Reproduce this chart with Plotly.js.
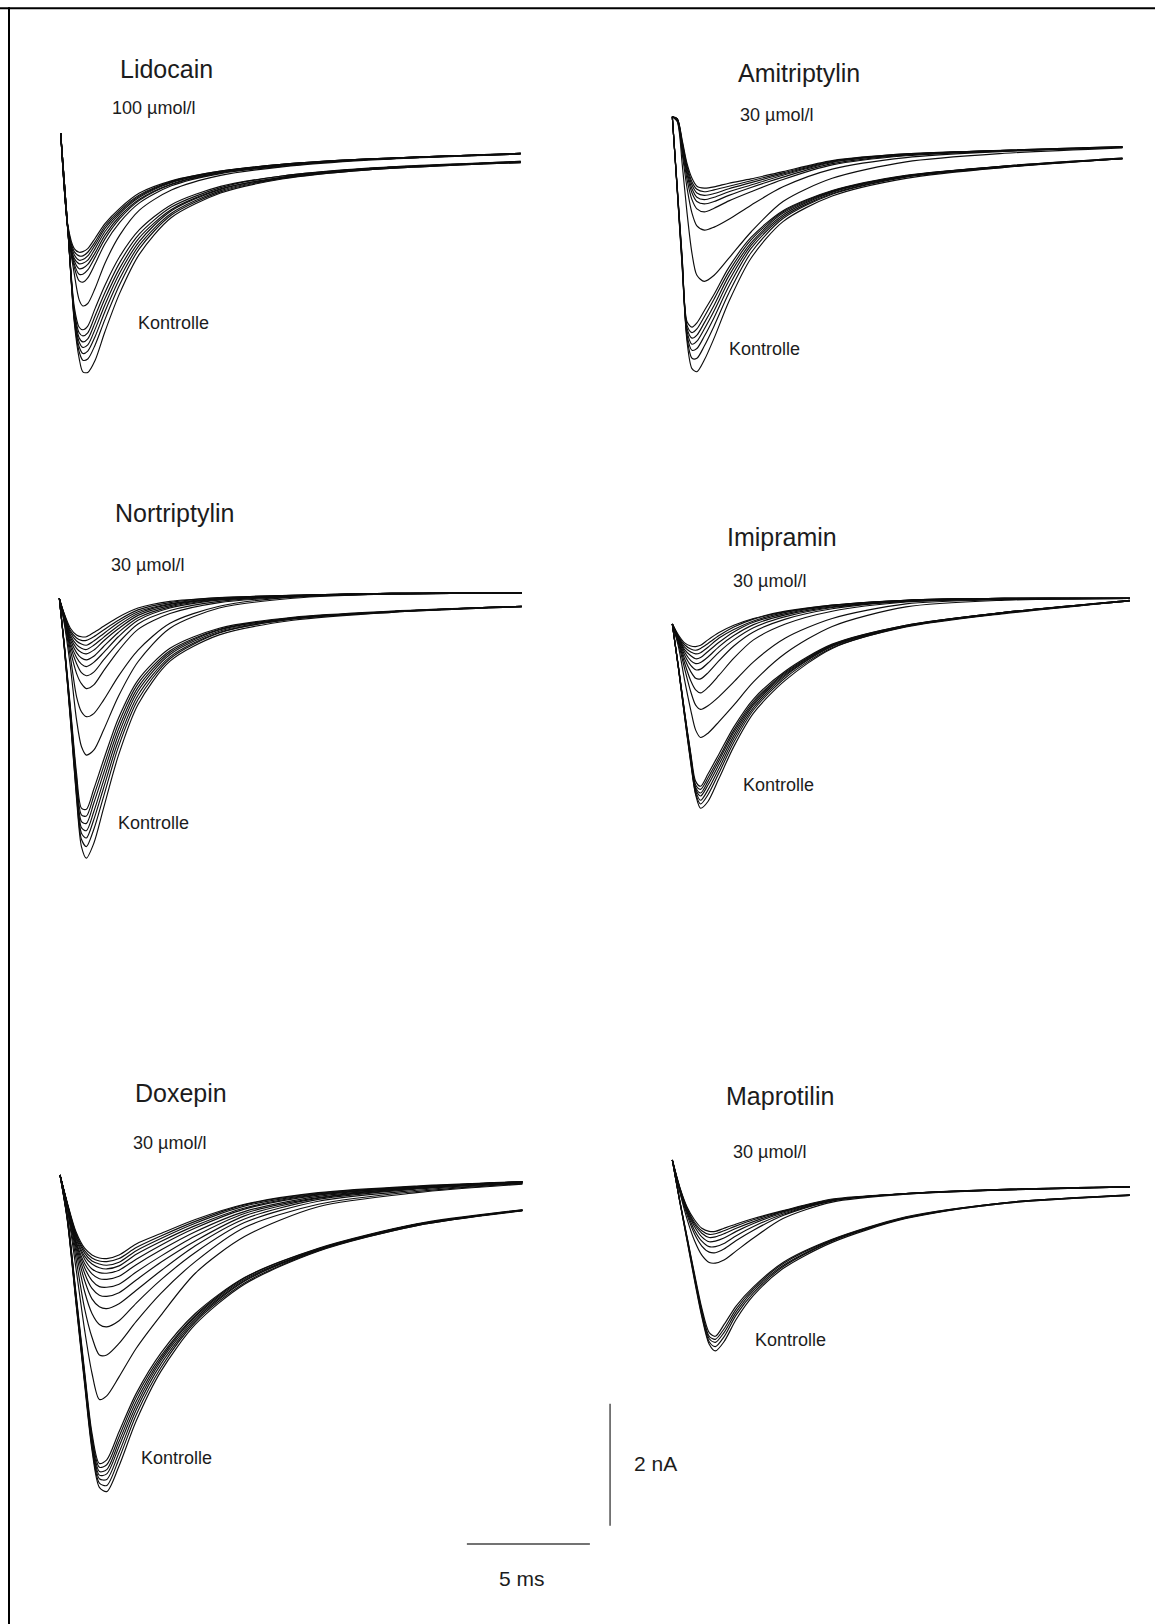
<!DOCTYPE html>
<html><head><meta charset="utf-8">
<script src="https://cdn.plot.ly/plotly-3.0.1.min.js"></script>
<style>html,body{margin:0;padding:0;background:#fff;}#chart{width:1155px;height:1624px;}</style>
</head><body><div id="chart"></div>
<script>
// ---- data: time in ms, current in nA ----
const panelNames = ['Lidocain','Amitriptylin','Nortriptylin','Imipramin','Doxepin','Maprotilin'];
const concLabels = ['100 µmol/l','30 µmol/l','30 µmol/l','30 µmol/l','30 µmol/l','30 µmol/l'];
const controlLabel = 'Kontrolle';
const scaleBarMs = 5, scaleBarNa = 2;
const scaleLabels = ['5 ms','2 nA'];

const lidoTime = [0,0.3,0.55,0.75,0.9,1.1,1.4,1.8,2.4,3.2,4.5,6.5,9,12.5,18.7];
const lidoControl = [
[0,-1.61,-2.84,-3.18,-3.22,-3.16,-2.87,-2.49,-2.02,-1.58,-1.17,-0.87,-0.70,-0.57,-0.46],
[0,-1.62,-2.90,-3.27,-3.32,-3.27,-2.99,-2.61,-2.12,-1.65,-1.21,-0.89,-0.70,-0.58,-0.46],
[0,-1.62,-2.94,-3.35,-3.42,-3.37,-3.10,-2.71,-2.21,-1.71,-1.25,-0.91,-0.72,-0.58,-0.47],
[0,-1.63,-2.98,-3.42,-3.51,-3.47,-3.21,-2.81,-2.29,-1.77,-1.27,-0.92,-0.72,-0.58,-0.47],
[0,-1.63,-3.02,-3.50,-3.61,-3.57,-3.33,-2.92,-2.38,-1.83,-1.31,-0.94,-0.73,-0.59,-0.47],
[0,-1.64,-3.05,-3.58,-3.72,-3.70,-3.47,-3.05,-2.48,-1.89,-1.34,-0.96,-0.74,-0.60,-0.48],
[0,-1.64,-3.09,-3.69,-3.91,-3.92,-3.72,-3.25,-2.62,-1.98,-1.38,-0.98,-0.75,-0.60,-0.48]];
const lidoDrug = [
[0,-1.53,-1.89,-1.95,-1.94,-1.89,-1.72,-1.48,-1.23,-0.98,-0.78,-0.62,-0.51,-0.42,-0.33],
[0,-1.56,-1.94,-2.01,-2.01,-1.95,-1.78,-1.52,-1.26,-1.01,-0.79,-0.62,-0.51,-0.42,-0.33],
[0,-1.57,-1.99,-2.08,-2.07,-2.01,-1.83,-1.56,-1.29,-1.03,-0.80,-0.63,-0.51,-0.42,-0.33],
[0,-1.58,-2.05,-2.14,-2.13,-2.08,-1.89,-1.61,-1.32,-1.05,-0.81,-0.63,-0.52,-0.43,-0.33],
[0,-1.60,-2.09,-2.22,-2.21,-2.15,-1.96,-1.67,-1.36,-1.08,-0.83,-0.64,-0.52,-0.43,-0.33],
[0,-1.61,-2.14,-2.31,-2.31,-2.24,-2.03,-1.73,-1.40,-1.10,-0.84,-0.65,-0.53,-0.43,-0.34],
[0,-1.62,-2.19,-2.42,-2.44,-2.37,-2.14,-1.81,-1.46,-1.14,-0.86,-0.66,-0.54,-0.43,-0.34],
[0,-1.63,-2.30,-2.73,-2.83,-2.79,-2.54,-2.13,-1.67,-1.26,-0.93,-0.69,-0.55,-0.44,-0.34]];

const amiTime = [0,0.2,0.4,0.6,0.8,1.0,1.3,1.7,2.3,3.2,4.5,6.5,9.5,13.5,18.3];
const amiControl = [
[0,-1.15,-2.30,-3.36,-3.45,-3.38,-3.18,-2.91,-2.47,-1.98,-1.54,-1.21,-0.96,-0.81,-0.68],
[0,-1.16,-2.32,-3.42,-3.54,-3.48,-3.28,-2.99,-2.54,-2.02,-1.56,-1.22,-0.97,-0.81,-0.68],
[0,-1.17,-2.35,-3.47,-3.63,-3.58,-3.38,-3.09,-2.61,-2.07,-1.58,-1.23,-0.97,-0.81,-0.69],
[0,-1.18,-2.38,-3.52,-3.73,-3.68,-3.48,-3.18,-2.69,-2.11,-1.61,-1.24,-0.98,-0.82,-0.69],
[0,-1.19,-2.40,-3.58,-3.83,-3.80,-3.60,-3.29,-2.78,-2.16,-1.64,-1.26,-0.98,-0.82,-0.69],
[0,-1.20,-2.43,-3.63,-3.96,-3.96,-3.76,-3.43,-2.89,-2.23,-1.67,-1.27,-0.99,-0.83,-0.69],
[0,-1.21,-2.46,-3.69,-4.13,-4.18,-3.99,-3.63,-3.03,-2.32,-1.72,-1.30,-1.01,-0.83,-0.69]];
const amiDrug = [
[0,-0.03,-0.38,-0.77,-1.01,-1.14,-1.17,-1.15,-1.09,-1.02,-0.90,-0.72,-0.61,-0.55,-0.49],
[0,-0.03,-0.41,-0.81,-1.07,-1.19,-1.23,-1.20,-1.14,-1.05,-0.92,-0.73,-0.61,-0.55,-0.49],
[0,-0.04,-0.44,-0.85,-1.12,-1.25,-1.29,-1.26,-1.18,-1.08,-0.94,-0.74,-0.62,-0.55,-0.50],
[0,-0.04,-0.46,-0.90,-1.18,-1.32,-1.36,-1.32,-1.23,-1.12,-0.96,-0.75,-0.62,-0.56,-0.50],
[0,-0.05,-0.49,-0.95,-1.25,-1.39,-1.43,-1.39,-1.29,-1.16,-0.99,-0.77,-0.63,-0.56,-0.50],
[0,-0.05,-0.54,-1.03,-1.36,-1.51,-1.56,-1.50,-1.38,-1.23,-1.03,-0.79,-0.64,-0.56,-0.50],
[0,-0.07,-0.60,-1.17,-1.58,-1.79,-1.86,-1.81,-1.68,-1.45,-1.15,-0.86,-0.67,-0.57,-0.50],
[0,-0.08,-0.77,-1.58,-2.24,-2.60,-2.70,-2.60,-2.32,-1.89,-1.39,-1.01,-0.74,-0.60,-0.51]];

const norTime = [0,0.2,0.45,0.7,0.9,1.1,1.4,1.8,2.4,3.2,4.5,6.5,9.5,13.5,18.8];
const norControl = [
[0,-0.74,-1.78,-2.87,-3.44,-3.46,-3.13,-2.65,-1.97,-1.34,-0.82,-0.49,-0.31,-0.21,-0.13],
[0,-0.75,-1.82,-2.95,-3.55,-3.57,-3.24,-2.76,-2.06,-1.40,-0.86,-0.51,-0.32,-0.22,-0.13],
[0,-0.76,-1.86,-3.02,-3.66,-3.69,-3.36,-2.87,-2.15,-1.46,-0.89,-0.52,-0.32,-0.22,-0.13],
[0,-0.77,-1.90,-3.09,-3.76,-3.81,-3.50,-2.99,-2.24,-1.52,-0.92,-0.54,-0.33,-0.22,-0.13],
[0,-0.78,-1.93,-3.15,-3.85,-3.93,-3.63,-3.11,-2.34,-1.59,-0.96,-0.56,-0.34,-0.22,-0.13],
[0,-0.79,-1.96,-3.22,-3.95,-4.07,-3.79,-3.25,-2.44,-1.66,-0.99,-0.57,-0.34,-0.23,-0.14],
[0,-0.80,-1.99,-3.28,-4.07,-4.26,-4.02,-3.44,-2.58,-1.74,-1.03,-0.60,-0.36,-0.23,-0.14]];
const norDrug = [
[0,-0.25,-0.49,-0.60,-0.63,-0.63,-0.56,-0.46,-0.31,-0.16,-0.05,0.01,0.05,0.08,0.09],
[0,-0.26,-0.53,-0.65,-0.69,-0.69,-0.63,-0.52,-0.36,-0.19,-0.07,0.01,0.05,0.08,0.09],
[0,-0.27,-0.56,-0.70,-0.75,-0.77,-0.70,-0.58,-0.40,-0.22,-0.09,0,0.05,0.08,0.09],
[0,-0.28,-0.60,-0.76,-0.82,-0.84,-0.77,-0.64,-0.45,-0.25,-0.10,-0.01,0.04,0.08,0.09],
[0,-0.30,-0.64,-0.82,-0.89,-0.91,-0.85,-0.70,-0.50,-0.28,-0.12,-0.01,0.04,0.08,0.09],
[0,-0.31,-0.68,-0.89,-0.98,-1.01,-0.95,-0.79,-0.56,-0.32,-0.14,-0.02,0.04,0.08,0.09],
[0,-0.32,-0.73,-0.97,-1.08,-1.12,-1.05,-0.89,-0.63,-0.36,-0.16,-0.03,0.03,0.07,0.09],
[0,-0.33,-0.78,-1.07,-1.22,-1.27,-1.21,-1.01,-0.73,-0.42,-0.20,-0.05,0.03,0.07,0.09],
[0,-0.34,-0.85,-1.23,-1.40,-1.48,-1.42,-1.19,-0.86,-0.51,-0.25,-0.07,0.02,0.07,0.09],
[0,-0.38,-0.96,-1.61,-1.86,-1.94,-1.89,-1.67,-1.28,-0.85,-0.41,-0.13,0.02,0.07,0.09],
[0,-0.41,-1.12,-1.99,-2.43,-2.57,-2.49,-2.16,-1.61,-1.04,-0.49,-0.16,0,0.07,0.09]];

const imiTime = [0,0.25,0.5,0.75,0.95,1.15,1.45,1.9,2.5,3.3,4.6,6.5,9.5,13.5,18.6];
const imiControl = [
[0,-0.70,-1.44,-2.12,-2.58,-2.66,-2.46,-2.13,-1.69,-1.23,-0.77,-0.33,-0.02,0.19,0.39],
[0,-0.70,-1.45,-2.15,-2.64,-2.71,-2.52,-2.19,-1.74,-1.27,-0.79,-0.34,-0.02,0.19,0.39],
[0,-0.71,-1.46,-2.17,-2.68,-2.77,-2.58,-2.24,-1.78,-1.30,-0.81,-0.35,-0.03,0.19,0.39],
[0,-0.72,-1.48,-2.20,-2.71,-2.82,-2.64,-2.30,-1.83,-1.33,-0.83,-0.36,-0.03,0.19,0.38],
[0,-0.72,-1.49,-2.23,-2.74,-2.89,-2.72,-2.37,-1.88,-1.37,-0.85,-0.37,-0.04,0.18,0.38],
[0,-0.73,-1.51,-2.26,-2.78,-2.95,-2.80,-2.44,-1.94,-1.41,-0.88,-0.39,-0.04,0.18,0.38],
[0,-0.73,-1.52,-2.28,-2.80,-3.02,-2.91,-2.53,-2.01,-1.46,-0.92,-0.40,-0.05,0.17,0.38]];
const imiDrug = [
[0,-0.18,-0.31,-0.36,-0.37,-0.35,-0.26,-0.14,-0.02,0.09,0.21,0.31,0.39,0.42,0.42],
[0,-0.20,-0.34,-0.41,-0.43,-0.40,-0.32,-0.19,-0.05,0.08,0.20,0.31,0.39,0.42,0.42],
[0,-0.21,-0.38,-0.46,-0.49,-0.47,-0.38,-0.23,-0.09,0.05,0.19,0.30,0.39,0.42,0.42],
[0,-0.22,-0.42,-0.52,-0.57,-0.55,-0.45,-0.30,-0.13,0.03,0.17,0.30,0.38,0.42,0.42],
[0,-0.23,-0.46,-0.60,-0.65,-0.63,-0.54,-0.37,-0.19,-0.01,0.15,0.28,0.38,0.42,0.42],
[0,-0.25,-0.51,-0.68,-0.75,-0.74,-0.64,-0.46,-0.26,-0.06,0.12,0.27,0.37,0.41,0.42],
[0,-0.27,-0.57,-0.78,-0.89,-0.90,-0.80,-0.60,-0.36,-0.13,0.08,0.25,0.37,0.41,0.42],
[0,-0.29,-0.64,-0.93,-1.08,-1.13,-1.04,-0.84,-0.56,-0.26,0,0.21,0.36,0.41,0.42],
[0,-0.32,-0.73,-1.11,-1.33,-1.40,-1.34,-1.19,-0.95,-0.62,-0.23,0.09,0.33,0.40,0.42],
[0,-0.37,-0.92,-1.41,-1.74,-1.86,-1.79,-1.60,-1.33,-0.95,-0.48,-0.04,0.28,0.39,0.42]];

const doxTime = [0,0.3,0.65,1.0,1.3,1.6,1.9,2.4,3.1,4.1,5.5,7.5,10.5,14.5,18.8];
const doxControl = [
[0,-0.68,-1.94,-3.22,-4.23,-4.73,-4.67,-4.21,-3.58,-2.92,-2.27,-1.68,-1.20,-0.80,-0.57],
[0,-0.69,-1.97,-3.26,-4.29,-4.79,-4.75,-4.29,-3.64,-2.97,-2.30,-1.69,-1.21,-0.81,-0.57],
[0,-0.70,-1.99,-3.30,-4.33,-4.86,-4.83,-4.37,-3.71,-3.01,-2.32,-1.71,-1.22,-0.81,-0.58],
[0,-0.72,-2.02,-3.33,-4.38,-4.92,-4.90,-4.45,-3.78,-3.05,-2.35,-1.73,-1.22,-0.81,-0.58],
[0,-0.73,-2.05,-3.36,-4.42,-4.98,-4.99,-4.55,-3.85,-3.10,-2.38,-1.74,-1.23,-0.82,-0.58],
[0,-0.74,-2.08,-3.39,-4.46,-5.05,-5.09,-4.65,-3.93,-3.16,-2.41,-1.77,-1.24,-0.83,-0.58],
[0,-0.75,-2.10,-3.43,-4.51,-5.12,-5.19,-4.77,-4.03,-3.22,-2.45,-1.79,-1.25,-0.83,-0.59]];
const doxDrug = [
[0,-0.46,-0.93,-1.20,-1.31,-1.36,-1.37,-1.31,-1.13,-0.96,-0.73,-0.48,-0.29,-0.18,-0.11],
[0,-0.47,-0.96,-1.24,-1.36,-1.41,-1.42,-1.37,-1.19,-1.00,-0.76,-0.49,-0.30,-0.19,-0.11],
[0,-0.48,-0.98,-1.28,-1.41,-1.46,-1.48,-1.43,-1.24,-1.04,-0.79,-0.51,-0.31,-0.19,-0.11],
[0,-0.48,-1.01,-1.33,-1.46,-1.52,-1.54,-1.49,-1.30,-1.09,-0.83,-0.54,-0.32,-0.20,-0.11],
[0,-0.49,-1.04,-1.38,-1.54,-1.60,-1.61,-1.56,-1.38,-1.15,-0.87,-0.56,-0.33,-0.20,-0.11],
[0,-0.49,-1.08,-1.45,-1.62,-1.70,-1.71,-1.66,-1.47,-1.23,-0.93,-0.60,-0.35,-0.21,-0.11],
[0,-0.50,-1.11,-1.52,-1.73,-1.83,-1.84,-1.79,-1.59,-1.33,-1.00,-0.63,-0.37,-0.21,-0.12],
[0,-0.50,-1.14,-1.61,-1.86,-1.97,-1.99,-1.93,-1.72,-1.43,-1.08,-0.67,-0.38,-0.22,-0.12],
[0,-0.51,-1.19,-1.73,-2.03,-2.16,-2.19,-2.11,-1.89,-1.57,-1.16,-0.72,-0.40,-0.23,-0.13],
[0,-0.53,-1.26,-1.91,-2.27,-2.45,-2.49,-2.39,-2.10,-1.72,-1.27,-0.78,-0.43,-0.25,-0.13],
[0,-0.55,-1.37,-2.19,-2.66,-2.95,-2.95,-2.76,-2.40,-1.94,-1.42,-0.86,-0.48,-0.27,-0.14],
[0,-0.57,-1.53,-2.54,-3.25,-3.68,-3.62,-3.31,-2.84,-2.30,-1.61,-1.01,-0.52,-0.29,-0.15]];

const mapTime = [0,0.3,0.6,0.9,1.2,1.5,1.75,2.1,2.6,3.3,4.5,6.5,9.5,13.5,18.6];
const mapControl = [
[0,-0.66,-1.26,-1.86,-2.43,-2.83,-2.89,-2.70,-2.39,-2.08,-1.68,-1.30,-0.93,-0.70,-0.57],
[0,-0.66,-1.27,-1.89,-2.47,-2.89,-2.94,-2.77,-2.44,-2.11,-1.70,-1.31,-0.94,-0.70,-0.57],
[0,-0.67,-1.29,-1.91,-2.50,-2.93,-2.99,-2.83,-2.49,-2.14,-1.73,-1.32,-0.95,-0.70,-0.58],
[0,-0.67,-1.31,-1.94,-2.54,-2.98,-3.06,-2.90,-2.54,-2.18,-1.75,-1.33,-0.95,-0.71,-0.58],
[0,-0.68,-1.32,-1.97,-2.57,-3.02,-3.13,-2.98,-2.61,-2.22,-1.78,-1.35,-0.96,-0.71,-0.58]];
const mapDrug = [
[0,-0.44,-0.77,-0.98,-1.12,-1.17,-1.17,-1.12,-1.05,-0.96,-0.83,-0.64,-0.55,-0.48,-0.44],
[0,-0.45,-0.79,-1.02,-1.16,-1.22,-1.21,-1.16,-1.08,-0.98,-0.84,-0.65,-0.55,-0.48,-0.44],
[0,-0.46,-0.81,-1.05,-1.20,-1.27,-1.26,-1.21,-1.12,-1.01,-0.85,-0.66,-0.55,-0.48,-0.44],
[0,-0.47,-0.84,-1.09,-1.26,-1.34,-1.33,-1.28,-1.17,-1.04,-0.87,-0.66,-0.55,-0.49,-0.44],
[0,-0.48,-0.86,-1.15,-1.33,-1.42,-1.42,-1.37,-1.24,-1.09,-0.89,-0.67,-0.55,-0.49,-0.44],
[0,-0.50,-0.90,-1.21,-1.41,-1.51,-1.52,-1.46,-1.32,-1.15,-0.91,-0.67,-0.56,-0.49,-0.44],
[0,-0.52,-0.97,-1.32,-1.56,-1.68,-1.69,-1.64,-1.49,-1.28,-0.96,-0.69,-0.56,-0.49,-0.44]];

// ---- layout / styling ----
const W = 1155, H = 1624, PX_PER_MS = 24.6, PX_PER_NA = 61;
const FONT = 'Liberation Sans, Arial, Helvetica, sans-serif';
const TXT = '#1c1c1c';
const panels = [
  {t: lidoTime, ctrl: lidoControl, drug: lidoDrug, ox: 60.7, oy: 133.3, title: [119, 69], conc: [111, 108], kont: [137, 323]},
  {t: amiTime, ctrl: amiControl, drug: amiDrug, ox: 672.3, oy: 116.7, title: [737, 72.7], conc: [739, 115], kont: [727.7, 349.3]},
  {t: norTime, ctrl: norControl, drug: norDrug, ox: 59.3, oy: 598.3, title: [114, 513.3], conc: [110, 565], kont: [117.3, 823.3]},
  {t: imiTime, ctrl: imiControl, drug: imiDrug, ox: 672.3, oy: 624, title: [726, 537.3], conc: [731.7, 580.7], kont: [741.7, 785]},
  {t: doxTime, ctrl: doxControl, drug: doxDrug, ox: 60, oy: 1175, title: [134.3, 1093.3], conc: [131.7, 1142.7], kont: [140, 1458.3]},
  {t: mapTime, ctrl: mapControl, drug: mapDrug, ox: 672.3, oy: 1160, title: [725, 1096], conc: [731.7, 1151.7], kont: [754.3, 1340]}
];
// scale bar anchor, expressed in the Doxepin panel's units (ms, nA)
const scaleBarPanel = 4;
const scaleBarAnchor = {hx: 16.54, hy: -6.05, vx: 22.36, vy: -3.75};

const traces = [];
const layout = {
  width: W, height: H, margin: {l: 0, r: 0, t: 0, b: 0, pad: 0},
  paper_bgcolor: '#ffffff', plot_bgcolor: 'rgba(0,0,0,0)', showlegend: false,
  annotations: [], shapes: []
};
function ann(text, px, py, size) {
  layout.annotations.push({text: text, xref: 'paper', yref: 'paper', x: px / W, y: 1 - py / H,
    xanchor: 'left', yanchor: 'middle', showarrow: false, borderpad: 0,
    font: {family: FONT, size: size, color: TXT}});
}
panels.forEach((p, i) => {
  const s = i === 0 ? '' : String(i + 1);
  layout['xaxis' + s] = {domain: [0, 1], range: [-p.ox / PX_PER_MS, (W - p.ox) / PX_PER_MS],
    visible: false, fixedrange: true, anchor: 'y' + s};
  layout['yaxis' + s] = {domain: [0, 1], range: [-(H - p.oy) / PX_PER_NA, p.oy / PX_PER_NA],
    visible: false, fixedrange: true, anchor: 'x' + s};
  p.drug.concat(p.ctrl).forEach(y => {
    traces.push({type: 'scatter', mode: 'lines', x: p.t, y: y, xaxis: 'x' + s, yaxis: 'y' + s,
      line: {color: '#0d0d0d', width: 1.15, shape: 'spline', smoothing: 0.8}, hoverinfo: 'skip'});
  });
  ann(panelNames[i], p.title[0], p.title[1], 25);
  ann(concLabels[i], p.conc[0], p.conc[1], 18);
  ann(controlLabel, p.kont[0], p.kont[1], 18);
});
// scale bars
const sb = String(scaleBarPanel + 1);
traces.push({type: 'scatter', mode: 'lines', xaxis: 'x' + sb, yaxis: 'y' + sb, hoverinfo: 'skip',
  x: [scaleBarAnchor.hx, scaleBarAnchor.hx + scaleBarMs], y: [scaleBarAnchor.hy, scaleBarAnchor.hy],
  line: {color: '#444', width: 1.4}});
traces.push({type: 'scatter', mode: 'lines', xaxis: 'x' + sb, yaxis: 'y' + sb, hoverinfo: 'skip',
  x: [scaleBarAnchor.vx, scaleBarAnchor.vx], y: [scaleBarAnchor.vy, scaleBarAnchor.vy - scaleBarNa],
  line: {color: '#444', width: 1.4}});
ann(scaleLabels[0], 498, 1578, 21);
ann(scaleLabels[1], 633, 1463, 21);
// frame (top and left edges)
layout.shapes.push({type: 'line', xref: 'paper', yref: 'paper', x0: 0, x1: 1, y0: 1 - 8.3 / H, y1: 1 - 8.3 / H,
  line: {color: '#000', width: 2}});
layout.shapes.push({type: 'line', xref: 'paper', yref: 'paper', x0: 9 / W, x1: 9 / W, y0: 0, y1: 1 - 7.3 / H,
  line: {color: '#000', width: 2}});
Plotly.newPlot('chart', traces, layout, {displayModeBar: false, staticPlot: true});
</script>
</body></html>
